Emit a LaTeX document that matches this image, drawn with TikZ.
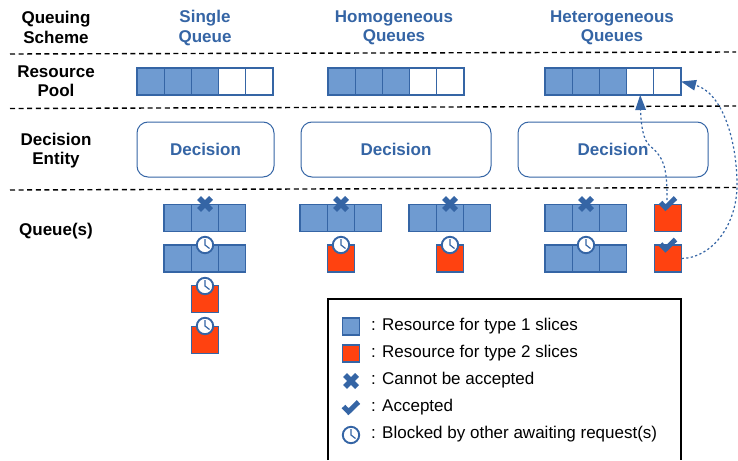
\documentclass[tikz,border=0pt]{standalone}
\usepackage{fontspec}
\setmainfont{Liberation Sans}
\usetikzlibrary{arrows.meta,calc}
\definecolor{bl}{HTML}{3565A5}
\definecolor{cellb}{HTML}{6F9BD1}
\definecolor{redc}{HTML}{FF4210}
\tikzset{
  hdr/.style={font=\bfseries\fontsize{17}{19.5}\selectfont,align=center,text=black,inner sep=0pt},
  hdrb/.style={hdr,text=bl},
  cellf/.style={draw=bl,line width=1.1pt,fill=cellb,minimum width=27.3pt,minimum height=27pt,inner sep=0pt,outer sep=0pt},
  celle/.style={cellf,fill=white},
  cellr/.style={cellf,fill=redc},
  decide/.style={draw=bl,line width=1pt,rounded corners=11pt,fill=white,minimum height=55pt,inner sep=0pt,font=\bfseries\fontsize{17}{20}\selectfont,text=bl},
  sep/.style={black,line width=1.4pt,dash pattern=on 5pt off 3.6pt},
  flow/.style={bl,line width=1.2pt,dash pattern=on 2.2pt off 2.4pt,-{Triangle[width=10.5pt,length=15pt]}},
  leg/.style={anchor=west,inner sep=0pt,font=\fontsize{17}{20}\selectfont,text=black},
  pics/xmark/.style={code={\draw[bl,line width=5.4pt] (-6,-6)--(6,6) (-6,6)--(6,-6);}},
  pics/chk/.style={code={\draw[bl,line width=5pt,line join=miter] (-7.5,-1)--(-2.5,4.2)--(7.5,-5.5);}},
  pics/clk/.style={code={\draw[bl,line width=1.9pt,fill=white] (0,0) circle (8.2);
     \draw[bl,line width=1.2pt] (0,-6)--(0,0)--(4.5,3.5);}}
}
\begin{document}
\begin{tikzpicture}[x=1pt,y=-1pt]
\useasboundingbox (0,0) rectangle (738,460);
% headers
\node[hdr] (hq) at (56,27.5) {Queuing\\Scheme};
\node[hdrb] (h1) at (205,28) {Single\\Queue};
\node[hdrb] (h2) at (394,28) {Homogeneous\\Queues};
\node[hdrb] (h3) at (612,28) {Heterogeneous\\Queues};
\node[hdr] (hr) at (56,81) {Resource\\Pool};
\node[hdr] (hd) at (56,150.5) {Decision\\Entity};
\node[hdr] (hqq) at (56,231.5) {Queue(s)};
% separators
\coordinate (s1a) at (10,54); \coordinate (s1b) at (736,52);
\coordinate (s2a) at (10,108.5); \coordinate (s2b) at (736,106);
\coordinate (s3a) at (10,190); \coordinate (s3b) at (736,187.5);
\draw[sep] (s1a)--(s1b);
\draw[sep] (s2a)--(s2b);
\draw[sep] (s3a)--(s3b);
% pools
\foreach \n/\x in {a/137,b/328,c/545}{
  \foreach \i/\s in {0/cellf,1/cellf,2/cellf,3/celle,4/celle}{
    \node[\s,minimum width=27.2pt] (p\n\i) at ({\x+13.6+27.2*\i},81.5) {};
  }
}
% decision
\node[decide,minimum width=137pt] (d1) at (205.5,149.5) {Decision};
\node[decide,minimum width=190pt] (d2) at (396,149.5) {Decision};
\node[decide,minimum width=190pt] (d3) at (613,149.5) {Decision};
% blue queues
\foreach \n/\x/\y in {qa/164/218,qb/164/258.5,qc/300/218,qd/409/218,qe/545/218,qf/545/258.5}{
  \foreach \i in {0,1,2}{
    \node[cellf] (\n\i) at ({\x+13.65+27.3*\i},\y) {};
  }
}
% red cells
\node[cellr] (r1) at (205,299) {};
\node[cellr] (r2) at (205,340) {};
\node[cellr] (r3) at (341,258.5) {};
\node[cellr] (r4) at (450,258.5) {};
\node[cellr] (r5) at (668,218) {};
\node[cellr] (r6) at (668,258.5) {};
% symbols
\foreach \p in {205,341,450,586}{\pic at (\p,204) {xmark};}
\foreach \p in {205,341,450,586}{\pic at (\p,245) {clk};}
\pic at (205,286) {clk};
\pic at (205,326) {clk};
% connectors
\coordinate (t1) at (667,200);
\coordinate (m1) at (650,146);
\coordinate (m2) at (737,185);
\draw[flow] (t1) .. controls (667,170) and (665,158) .. (m1)
   .. controls (643,140) and (641,125) .. (pc3.south);
\draw[flow] (r6.east) .. controls (712,258) and (737,225) .. (m2)
   .. controls (737,140) and (722,92) .. (pc4.east);
\pic at (668,203.5) {chk};
\pic at (668,245) {chk};
% legend
\coordinate (la) at (328,460); \coordinate (lb) at (328,299);
\coordinate (lc) at (681,299); \coordinate (ld) at (681,460);
\draw[black,line width=1.2pt] (la)--(lb)--(lc)--(ld);
\node[cellf,minimum width=17pt,minimum height=17pt] (k1) at (351,326.5) {};
\node[cellr,minimum width=17pt,minimum height=17pt] (k2) at (351,353.5) {};
\pic at (351,381) {xmark};
\pic at (351,407.5) {chk};
\pic at (351,435) {clk};
\node[leg] (l1) at (371,326.5) {: Resource for type 1 slices};
\node[leg] (l2) at (371,353.5) {: Resource for type 2 slices};
\node[leg] (l3) at (371,380.5) {: Cannot be accepted};
\node[leg] (l4) at (371,407.5) {: Accepted};
\node[leg] (l5) at (371,434.5) {: Blocked by other awaiting request(s)};
\end{tikzpicture}
\end{document}
